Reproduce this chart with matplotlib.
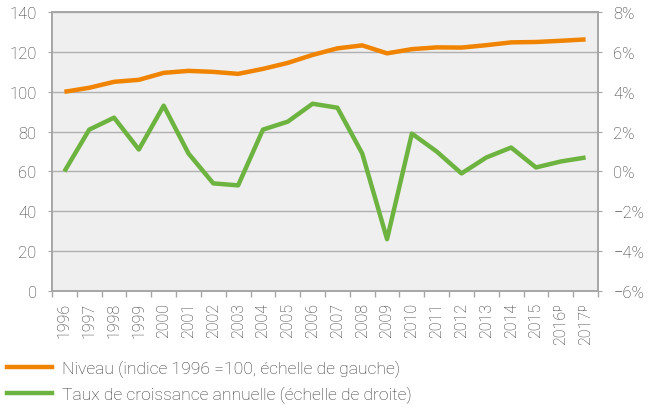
import matplotlib
matplotlib.use("Agg")
import matplotlib.pyplot as plt
from matplotlib.lines import Line2D
from matplotlib.ticker import FuncFormatter

plt.rcParams["font.family"] = ["Roboto", "DejaVu Sans"]

years = ["1996", "1997", "1998", "1999", "2000", "2001", "2002", "2003",
         "2004", "2005", "2006", "2007", "2008", "2009", "2010", "2011",
         "2012", "2013", "2014", "2015", "2016ᵖ", "2017ᵖ"]
niveau = [100, 102, 105, 106, 109.5, 110.5, 110, 109, 111.5, 114.5, 118.5,
          121.8, 123.3, 119.3, 121.4, 122.3, 122.2, 123.4, 124.8, 125, 125.6, 126.3]
taux = [0.0, 2.1, 2.7, 1.1, 3.3, 0.9, -0.6, -0.7, 2.1, 2.5, 3.4, 3.2, 0.9,
        -3.4, 1.9, 1.0, -0.1, 0.7, 1.2, 0.2, 0.5, 0.7]

orange = "#F08300"
green = "#6DB33F"
text_c = "#333333"
axis_c = "#A6A6A6"

fig = plt.figure(figsize=(6.5, 4.1), dpi=100)
ax = fig.add_axes([0.08, 0.288, 0.84, 0.68])
ax2 = ax.twinx()

x = list(range(len(years)))
ax.set_facecolor("#EFEFEF")
ax.plot(x, niveau, color=orange, lw=3.2, solid_capstyle="butt", zorder=3)
ax2.plot(x, taux, color=green, lw=3.2, solid_capstyle="butt", zorder=3)

ax.set_xlim(-0.5, len(years) - 0.5)
ax.set_ylim(0, 140)
ax.set_yticks(range(0, 141, 20))
ax2.set_ylim(-6, 8)
ax2.set_yticks(range(-6, 9, 2))
ax2.yaxis.set_major_formatter(FuncFormatter(lambda v, p: f"{int(v)}%".replace("-", "\u2212")))

ax.grid(axis="y", color="#B0B0B0", lw=1)
ax.set_axisbelow(True)

ax.set_xticks(x)
ax.set_xticklabels(years, rotation=90)
ax.set_xticks([i - 0.5 for i in range(len(years) + 1)], minor=True)
ax.tick_params(axis="x", which="major", length=0, pad=8, labelsize=11.5, colors=text_c)
ax.tick_params(axis="x", which="minor", length=4, color=axis_c, width=1)
ax.tick_params(axis="y", length=3, color=axis_c, labelsize=12, labelcolor=text_c, pad=8)
ax2.tick_params(axis="y", length=3, color=axis_c, labelsize=12, labelcolor=text_c, pad=8)
for a in (ax, ax2):
    for s in a.spines.values():
        s.set_color(axis_c)
        s.set_linewidth(1.2)
for lab in ax.get_yticklabels() + ax2.get_yticklabels() + ax.get_xticklabels():
    lab.set_fontweight("light")

handles = [Line2D([], [], color=orange, lw=3.2),
           Line2D([], [], color=green, lw=3.2)]
labels = ["Niveau (indice 1996 =100, échelle de gauche)",
          "Taux de croissance annuelle (échelle de droite)"]
leg = fig.legend(handles, labels, loc="upper left", bbox_to_anchor=(7 / 650, 0.12),
                 frameon=False, fontsize=12.6, handlelength=2.55, handletextpad=0.62,
                 labelspacing=0.52, borderaxespad=0, borderpad=0)
for t in leg.get_texts():
    t.set_color(text_c)
    t.set_fontweight("light")

fig.savefig("out.png", dpi=100)
